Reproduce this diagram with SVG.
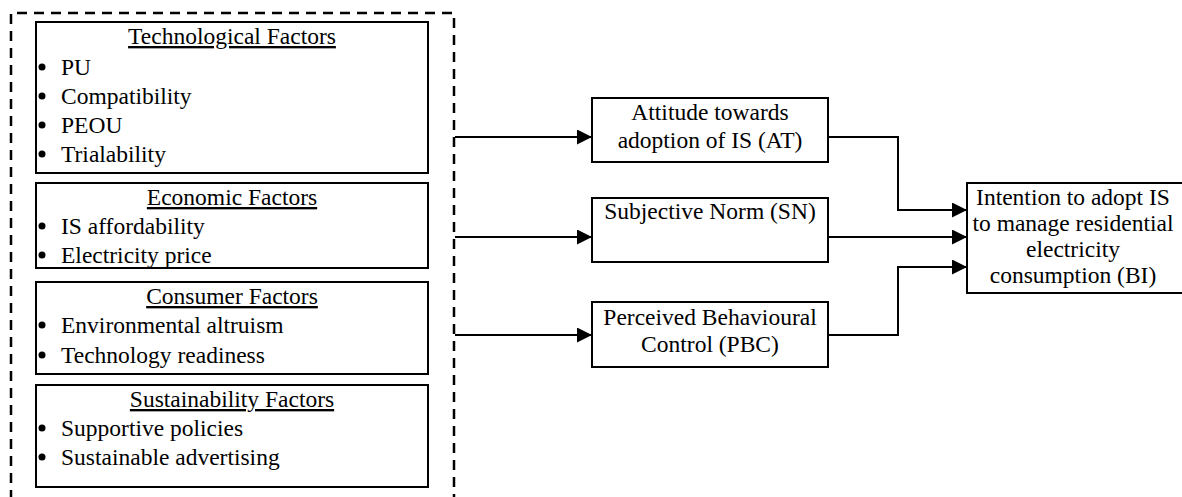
<svg xmlns="http://www.w3.org/2000/svg" width="1182" height="497" viewBox="0 0 1182 497">
<style>
  text { font-family: "Liberation Serif", "Times New Roman", serif; font-size: 23.5px; fill: #000; }
  .c { text-anchor: middle; }
  .u { text-decoration: underline; }
  .box { fill: #fff; stroke: #000; stroke-width: 2; }
  .conn { fill: none; stroke: #000; stroke-width: 2; }
  .dash { fill: none; stroke: #000; stroke-width: 2.5; stroke-dasharray: 10 7; }
  .bul { fill: #000; }
</style>
<defs>
  <marker id="arr" markerUnits="userSpaceOnUse" markerWidth="16" markerHeight="16" refX="15" refY="7.5" orient="auto">
    <polygon points="0,0 15,7.5 0,15" fill="#000"/>
  </marker>
</defs>

<path class="dash" d="M11,500 V13 H454 V500"/>

<g id="tech">
  <rect class="box" x="36" y="22" width="392" height="151"/>
  <text class="c u" x="232" y="44">Technological Factors</text>
  <circle class="bul" cx="42" cy="67" r="3.5"/><text x="61" y="75">PU</text>
  <circle class="bul" cx="42" cy="96" r="3.5"/><text x="61" y="104">Compatibility</text>
  <circle class="bul" cx="42" cy="125" r="3.5"/><text x="61" y="133">PEOU</text>
  <circle class="bul" cx="42" cy="154" r="3.5"/><text x="61" y="162">Trialability</text>
</g>

<g id="econ">
  <rect class="box" x="36" y="183" width="392" height="85"/>
  <text class="c u" x="232" y="205">Economic Factors</text>
  <circle class="bul" cx="42" cy="226" r="3.5"/><text x="61" y="234">IS affordability</text>
  <circle class="bul" cx="42" cy="255" r="3.5"/><text x="61" y="263">Electricity price</text>
</g>

<g id="consumer">
  <rect class="box" x="36" y="282" width="392" height="92"/>
  <text class="c u" x="232" y="304">Consumer Factors</text>
  <circle class="bul" cx="42" cy="325" r="3.5"/><text x="61" y="333">Environmental altruism</text>
  <circle class="bul" cx="42" cy="355" r="3.5"/><text x="61" y="363">Technology readiness</text>
</g>

<g id="sustain">
  <rect class="box" x="36" y="385" width="392" height="102"/>
  <text class="c u" x="232" y="407">Sustainability Factors</text>
  <circle class="bul" cx="42" cy="428" r="3.5"/><text x="61" y="436">Supportive policies</text>
  <circle class="bul" cx="42" cy="457" r="3.5"/><text x="61" y="465">Sustainable advertising</text>
</g>

<g id="at">
  <rect class="box" x="592" y="98" width="236" height="64"/>
  <text class="c" x="710" y="120">Attitude towards</text>
  <text class="c" x="710" y="148">adoption of IS (AT)</text>
</g>

<g id="sn">
  <rect class="box" x="592" y="198" width="236" height="64"/>
  <text class="c" x="710" y="219">Subjective Norm (SN)</text>
</g>

<g id="pbc">
  <rect class="box" x="592" y="302" width="236" height="65"/>
  <text class="c" x="710" y="325">Perceived Behavioural</text>
  <text class="c" x="710" y="352">Control (PBC)</text>
</g>

<g id="bi">
  <rect class="box" x="967" y="183" width="220" height="110"/>
  <text class="c" x="1073" y="205">Intention to adopt IS</text>
  <text class="c" x="1073" y="231">to manage residential</text>
  <text class="c" x="1073" y="257">electricity</text>
  <text class="c" x="1073" y="283">consumption (BI)</text>
</g>

<g id="connectors">
  <line class="conn" x1="455" y1="137" x2="592" y2="137" marker-end="url(#arr)"/>
  <line class="conn" x1="455" y1="237" x2="592" y2="237" marker-end="url(#arr)"/>
  <line class="conn" x1="455" y1="335" x2="592" y2="335" marker-end="url(#arr)"/>
  <path class="conn" d="M828,137 H898 V210 H967" marker-end="url(#arr)"/>
  <path class="conn" d="M828,237 H967" marker-end="url(#arr)"/>
  <path class="conn" d="M828,335 H898 V267 H967" marker-end="url(#arr)"/>
</g>
</svg>
